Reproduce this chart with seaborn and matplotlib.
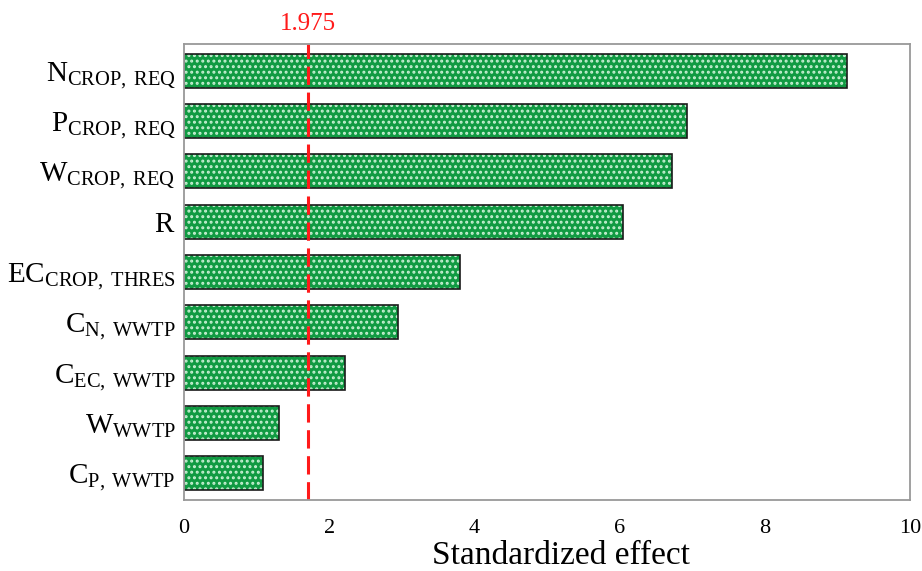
import matplotlib
matplotlib.use("Agg")
import matplotlib.pyplot as plt
import seaborn as sns
import pandas as pd

# factors (mathtext labels) and standardized effects
factors = [
    r"$\mathrm{N}_{\mathrm{CROP,\ REQ}}$",
    r"$\mathrm{P}_{\mathrm{CROP,\ REQ}}$",
    r"$\mathrm{W}_{\mathrm{CROP,\ REQ}}$",
    r"$\mathrm{R}$",
    r"$\mathrm{EC}_{\mathrm{CROP,\ THRES}}$",
    r"$\mathrm{C}_{\mathrm{N,\ WWTP}}$",
    r"$\mathrm{C}_{\mathrm{EC,\ WWTP}}$",
    r"$\mathrm{W}_{\mathrm{WWTP}}$",
    r"$\mathrm{C}_{\mathrm{P,\ WWTP}}$",
]
effects = [9.13, 6.93, 6.72, 6.05, 3.80, 2.95, 2.22, 1.31, 1.09]
x_ticks = [0, 2, 4, 6, 8, 10]
threshold_pos = 1.71
threshold_label = "1.975"

df = pd.DataFrame({"factor": factors, "effect": effects})

sns.set_style("white")
plt.rcParams["font.family"] = ["Liberation Serif", "DejaVu Serif"]
plt.rcParams["mathtext.fontset"] = "custom"
plt.rcParams["mathtext.rm"] = "Liberation Serif"
plt.rcParams["mathtext.it"] = "Liberation Serif:italic"
plt.rcParams["mathtext.bf"] = "Liberation Serif:bold"
plt.rcParams["hatch.linewidth"] = 1.4
for k in ["text.color", "axes.labelcolor", "xtick.color", "ytick.color"]:
    plt.rcParams[k] = "black"

fig = plt.figure(figsize=(9.22, 5.71), dpi=100)
ax = fig.add_axes([0.1996, 0.1243, 0.7874, 0.7987])

# green fill with light speckle hatch
sns.barplot(data=df, x="effect", y="factor", orient="h", color="#109a42",
            saturation=1, width=0.68, edgecolor="#c6efd2", linewidth=0,
            hatch="...", ax=ax)
# black outline on top
sns.barplot(data=df, x="effect", y="factor", orient="h", fill=False,
            width=0.68, edgecolor="#1a1a1a", linewidth=1.2, ax=ax)

ax.axvline(threshold_pos, color="#ff1a1a", linestyle=(0, (6, 2.5)), linewidth=2.2)
ax.text(threshold_pos, 1.02, threshold_label, transform=ax.get_xaxis_transform(),
        ha="center", va="bottom", color="#ff1a1a", fontsize=18)

ax.set_xlim(0, 10)
ax.set_ylim(8.53, -0.53)
ax.set_xticks(x_ticks)
ax.set_xticklabels([str(t) for t in x_ticks], fontsize=16)
ax.tick_params(axis="x", length=0, pad=14)
ax.tick_params(axis="y", length=0, pad=6, labelsize=21)
ax.set_xlabel("Standardized effect", fontsize=24)
ax.xaxis.set_label_coords(0.519, -0.088)
ax.set_ylabel("")

for s in ax.spines.values():
    s.set_color("#999999")
    s.set_linewidth(1.3)

fig.savefig("out.png", dpi=100)
